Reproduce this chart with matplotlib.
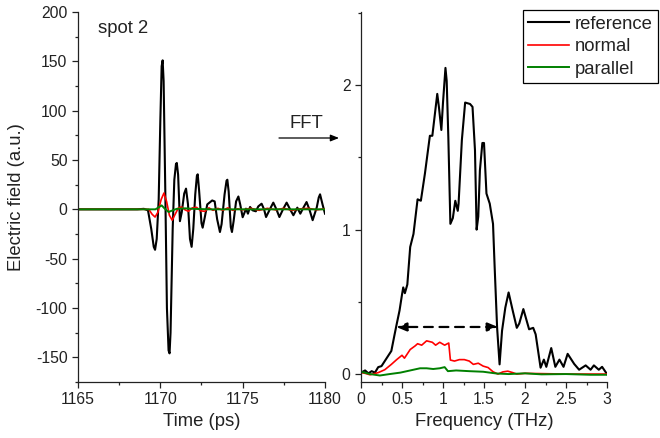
"""THz pulse at spot 2 and its FFT spectrum (reference / normal / parallel)."""
import matplotlib
matplotlib.use("Agg")
import matplotlib.pyplot as plt


################################################################################
# DATA
################################################################################

# Time domain, reference (black).
TIME_REF = [
    1165.0, 1168.6, 1169.0, 1169.25, 1169.45, 1169.6, 1169.68, 1169.78, 1169.9,
    1170.0, 1170.08, 1170.14, 1170.2, 1170.3, 1170.4, 1170.5, 1170.56, 1170.62,
    1170.75, 1170.85, 1170.95, 1171.0, 1171.08, 1171.19, 1171.3, 1171.45, 1171.56,
    1171.68, 1171.8, 1171.9, 1172.0, 1172.12, 1172.22, 1172.27, 1172.35, 1172.5,
    1172.57, 1172.7, 1172.85, 1173.0, 1173.15, 1173.3, 1173.45, 1173.62, 1173.72,
    1173.9, 1174.02, 1174.07, 1174.15, 1174.28, 1174.35, 1174.45, 1174.6, 1174.74,
    1174.85, 1175.0, 1175.12, 1175.2, 1175.32, 1175.45, 1175.6, 1175.8, 1175.95,
    1176.15, 1176.3, 1176.42, 1176.65, 1176.86, 1177.05, 1177.23, 1177.45, 1177.67,
    1177.88, 1178.08, 1178.32, 1178.5, 1178.7, 1178.88, 1179.05, 1179.25, 1179.5,
    1179.62, 1179.7, 1179.85, 1180.0,
]
FIELD_REF = [
    0, 0, 0.5, -1, -20, -38, -41, -30, 10,
    90, 145, 151, 130, 20, -100, -143, -146, -125,
    -20, 30, 46, 47, 35, -12, -3, 16, 21,
    5, -30, -38, -20, 15, 34, 35.5, 20, -14,
    -18.6, -8, 5, 7, 9, 8, -10, -23, -15,
    15, 29, 30, 18, -18, -23, -12, 8, 13,
    5, -8, -3, 0.7, -4.4, 2.4, -1, -2, 3,
    5.7, 0, -7.8, 0, 6.8, 0, -7.8, 0, 6.8,
    0, -6, 1.7, -4.4, 2, 7.4, 0, -11, 2,
    12, 15.2, 5, -4.4,
]

# Time domain, normal (red).
TIME_NORMAL = [
    1165.0, 1169.3, 1169.5, 1169.68, 1169.85, 1170.05, 1170.22, 1170.38, 1170.55,
    1170.72, 1170.9, 1171.1, 1171.3, 1171.5, 1171.7, 1171.95, 1172.2, 1172.45,
    1172.7, 1172.95, 1173.2, 1173.5, 1173.8, 1174.1, 1174.4, 1174.7, 1175.0,
    1175.5, 1176.0, 1176.5, 1177.0, 1177.5, 1178.0, 1178.5, 1179.0, 1179.5, 1180.0,
]
FIELD_NORMAL = [
    0, 0, -5, -7.8, -3, 10, 16.5, 8, -6,
    -11, -5, 1.5, 2.4, -0.5, -2, 1.5, 2, -1.5,
    -2, 1.5, -1, 1, -1, 1.5, -1, 0.5, -0.5,
    1, -1, 1, -0.5, 1, -1, 0.5, 1, -0.5, 0.5,
]

# Time domain, parallel (green).
TIME_PARALLEL = [1165.0, 1169.7, 1169.9, 1170.08, 1170.25, 1170.5, 1170.75, 1171.0,
                 1171.5, 1172.0, 1173.0, 1180.0]
FIELD_PARALLEL = [0, 0, 2, 4, 1, -2.7, -1, 0.5, 1, 0.5, 0, 0]

# Frequency domain, reference (black).
FREQ_REF = [
    0.0, 0.05, 0.09, 0.13, 0.17, 0.21, 0.25, 0.29, 0.33, 0.37, 0.41, 0.435, 0.47,
    0.5, 0.515, 0.535, 0.565, 0.6, 0.64, 0.69, 0.73, 0.78, 0.84, 0.87, 0.93, 0.95,
    0.98, 1.0, 1.03, 1.045, 1.065, 1.09, 1.12, 1.15, 1.18, 1.19, 1.23, 1.27, 1.33,
    1.36, 1.39, 1.41, 1.43, 1.45, 1.48, 1.5, 1.53, 1.57, 1.61, 1.63, 1.66, 1.69,
    1.72, 1.76, 1.8, 1.85, 1.9, 1.93, 1.98, 2.02, 2.05, 2.1, 2.13, 2.19, 2.23,
    2.26, 2.32, 2.37, 2.42, 2.47, 2.52, 2.6, 2.66, 2.74, 2.8, 2.84, 2.9, 2.94, 3.0,
]
AMP_REF = [
    0.01, 0.025, 0.005, 0.02, 0.01, 0.048, 0.055, 0.09, 0.125, 0.16, 0.275, 0.345, 0.44,
    0.55, 0.6, 0.56, 0.62, 0.88, 0.97, 1.21, 1.2, 1.39, 1.65, 1.65, 1.94, 1.85,
    1.69, 1.88, 2.12, 2.03, 1.64, 1.04, 1.08, 1.2, 1.13, 1.18, 1.62, 1.88, 1.87,
    1.85, 1.55, 1.0, 1.09, 1.41, 1.6, 1.6, 1.25, 1.18, 1.04, 0.74, 0.32, 0.067,
    0.3, 0.46, 0.565, 0.44, 0.32, 0.35, 0.45, 0.37, 0.31, 0.32, 0.275, 0.044, 0.1,
    0.05, 0.18, 0.05, 0.1, 0.05, 0.14, 0.07, 0.03, 0.06, 0.03, 0.06, 0.03, 0.05, 0.0,
]

# Frequency domain, normal (red).
FREQ_NORMAL = [
    0.0, 0.05, 0.11, 0.21, 0.29, 0.37, 0.435, 0.5, 0.53, 0.6, 0.66, 0.69, 0.74,
    0.8, 0.87, 0.91, 0.96, 1.02, 1.07, 1.09, 1.14, 1.2, 1.26, 1.32, 1.37, 1.43,
    1.49, 1.55, 1.61, 1.67, 1.73, 1.79, 1.85, 1.9, 2.0, 2.5, 3.0,
]
AMP_NORMAL = [
    0.01, 0.005, -0.005, 0.01, 0.03, 0.067, 0.1, 0.13, 0.11, 0.17, 0.195, 0.21, 0.2,
    0.23, 0.22, 0.2, 0.22, 0.2, 0.215, 0.097, 0.09, 0.1, 0.1, 0.09, 0.067, 0.075,
    0.055, 0.045, 0.016, 0.0, 0.015, 0.02, 0.01, 0.0, 0.005, 0.0, 0.0,
]

# Frequency domain, parallel (green).
FREQ_PARALLEL = [0.0, 0.11, 0.23, 0.35, 0.48, 0.6, 0.72, 0.8, 0.88, 0.96, 1.02, 1.06,
                 1.16, 1.32, 1.49, 1.65, 1.8, 2.0, 2.2, 2.5, 2.8, 3.0]
AMP_PARALLEL = [0.016, 0.0, -0.01, 0.0, 0.01, 0.025, 0.04, 0.04, 0.035, 0.04, 0.048, 0.02,
                0.025, 0.02, 0.016, 0.004, 0.0, 0.005, -0.002, 0.0, -0.005, -0.005]

# Bandwidth marker (dashed double arrow).
BAND_LO, BAND_HI, BAND_LEVEL = 0.43, 1.67, 0.326

LABELS = ["reference", "normal", "parallel"]
COLORS = ["black", "#ff0000", "#008000"]


################################################################################
# PLOTTING
################################################################################

plt.rcParams["font.family"] = ["Liberation Sans", "DejaVu Sans"]
plt.rcParams["axes.unicode_minus"] = False
TICK_FS = 11.3
LABEL_FS = 13.3
TEXT_COLOR = "#222222"

fig = plt.figure(figsize=(6.6, 4.38), dpi=100)
W, H = 660, 438


def px_box(left, right, top, bottom):
    return [left / W, 1 - bottom / H, (right - left) / W, (bottom - top) / H]


ax1 = fig.add_axes(px_box(78, 325, 12, 382))
ax2 = fig.add_axes(px_box(361, 607, 12, 382))

for ax in (ax1, ax2):
    ax.spines["top"].set_visible(False)
    ax.spines["right"].set_visible(False)
    for s in ("left", "bottom"):
        ax.spines[s].set_linewidth(0.9)
        ax.spines[s].set_color(TEXT_COLOR)
    ax.tick_params(which="both", direction="out", colors=TEXT_COLOR,
                   labelsize=TICK_FS, width=0.9)
    ax.tick_params(which="major", length=4.5, pad=3)
    ax.tick_params(which="minor", length=2.5)

# Time domain.
ax1.plot(TIME_REF, FIELD_REF, color=COLORS[0], lw=1.5)
ax1.plot(TIME_NORMAL, FIELD_NORMAL, color=COLORS[1], lw=1.2)
ax1.plot(TIME_PARALLEL, FIELD_PARALLEL, color=COLORS[2], lw=1.4)
ax1.set_xlim(1165, 1180)
ax1.set_ylim(-175, 200)
ax1.xaxis.set(major_locator=plt.MultipleLocator(5), minor_locator=plt.MultipleLocator(2.5))
ax1.yaxis.set(major_locator=plt.MultipleLocator(50), minor_locator=plt.MultipleLocator(25))
ax1.set_yticks([-150, -100, -50, 0, 50, 100, 150, 200])
ax1.set_xlabel("Time (ps)", fontsize=LABEL_FS, color=TEXT_COLOR, labelpad=4)
ax1.set_ylabel("Electric field (a.u.)", fontsize=LABEL_FS, color=TEXT_COLOR, labelpad=8)
ax1.text(0.08, 0.955, "spot 2", transform=ax1.transAxes, fontsize=LABEL_FS,
         color=TEXT_COLOR, ha="left", va="center")

# Frequency domain.
lines = []
lines += ax2.plot(FREQ_REF, AMP_REF, color=COLORS[0], lw=1.5, label=LABELS[0])
lines += ax2.plot(FREQ_NORMAL, AMP_NORMAL, color=COLORS[1], lw=1.2, label=LABELS[1])
lines += ax2.plot(FREQ_PARALLEL, AMP_PARALLEL, color=COLORS[2], lw=1.4, label=LABELS[2])
ax2.set_xlim(0, 3)
ax2.set_ylim(-0.055, 2.507)
ax2.xaxis.set(major_locator=plt.MultipleLocator(0.5), minor_locator=plt.MultipleLocator(0.25))
ax2.yaxis.set(major_locator=plt.MultipleLocator(1), minor_locator=plt.MultipleLocator(0.5))
ax2.xaxis.set_major_formatter(plt.FuncFormatter(lambda v, _: f"{v:g}"))
ax2.set_xlabel("Frequency (THz)", fontsize=LABEL_FS, color=TEXT_COLOR, labelpad=4)

# Bandwidth double arrow.
ax2.annotate("", xy=(BAND_LO, BAND_LEVEL), xytext=(BAND_HI, BAND_LEVEL),
             arrowprops=dict(arrowstyle="<|-|>,head_length=0.6,head_width=0.25",
                             color="black", lw=1.6, linestyle=(0, (4, 3)),
                             shrinkA=0, shrinkB=0))

# FFT arrow between panels.
fig.text(306 / W, 1 - 124 / H, "FFT", fontsize=LABEL_FS, color=TEXT_COLOR,
         ha="center", va="center")
fig.add_artist(plt.matplotlib.patches.FancyArrowPatch(
    (279 / W, 1 - 138 / H), (339 / W, 1 - 138 / H), transform=fig.transFigure,
    arrowstyle="-|>,head_length=5,head_width=2", color="black", lw=0.9,
    shrinkA=0, shrinkB=0))

# Legend.
legend = fig.legend(handles=lines, loc="upper right", bbox_to_anchor=(658 / W, 1 - 10 / H),
                    borderaxespad=0, fontsize=LABEL_FS, fancybox=False, framealpha=1,
                    edgecolor="black", handlelength=2.2, handletextpad=0.3,
                    borderpad=0.3, labelspacing=0.3)
legend.get_frame().set_linewidth(0.9)
for t in legend.get_texts():
    t.set_color(TEXT_COLOR)

fig.savefig("out.png", dpi=100)
